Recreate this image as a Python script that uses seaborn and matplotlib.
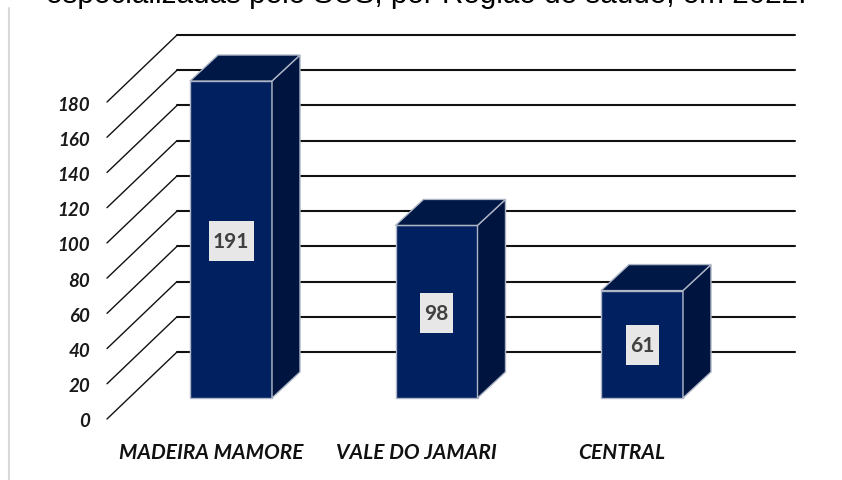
import pandas as pd
import matplotlib.pyplot as plt
from matplotlib.patches import Rectangle
import seaborn as sns

regioes = ['MADEIRA MAMORE', 'VALE DO JAMARI', 'CENTRAL']
valores = [191, 98, 61]
ticks = [0, 20, 40, 60, 80, 100, 120, 140, 160, 180]
titulo = 'especializadas pelo SUS, por Região de saúde, em 2022.'

W, H = 842, 481
PX_CAT = 205.5      # pixels entre categorias
PX_VAL = 1.761      # pixels por unidade do eixo
X0, Y0 = 231, 399   # centro da primeira barra / base das barras
DX, DY = 28, 26     # profundidade das barras
eixo_max = 180

FONTE = ['Lato', 'DejaVu Sans']
AZUL = '#002060'
LATERAL = '#001440'
TOPO = '#001846'
BORDA = '#aeb6c6'


def px_x(px):
    return (px - X0) / PX_CAT


def px_y(py):
    return (Y0 - py) / PX_VAL


sns.set_theme(style='white')
plt.rcParams['font.family'] = FONTE

df = pd.DataFrame({'regiao': regioes, 'valor': valores})
# a barra de 191 é cortada no topo do eixo, como no original
df['altura'] = df['valor'].clip(upper=eixo_max)

fig = plt.figure(figsize=(W / 100, H / 100), dpi=100, facecolor='white')
ax = fig.add_axes([0, 0, 1, 1])

sns.barplot(data=df, x='regiao', y='altura', color=AZUL, saturation=1,
            width=82 / PX_CAT, edgecolor=BORDA, linewidth=1, ax=ax, zorder=3)

ax.set_xlim(px_x(0), px_x(W))
ax.set_ylim(px_y(H), px_y(0))
ax.axis('off')

# grade em perspectiva: diagonal na frente, horizontal no fundo
for t in ticks:
    y_frente = t - 21 / PX_VAL
    y_fundo = t + 46 / PX_VAL
    ax.plot([px_x(107), px_x(177)], [y_frente, y_fundo], color='#111111', lw=1, zorder=1)
    ax.plot([px_x(177), px_x(795)], [y_fundo, y_fundo], color='#111111', lw=1.5, zorder=1)
    ax.text(px_x(90), y_frente - 2 / PX_VAL, str(t), ha='right', va='center', fontsize=13.5,
            style='italic', weight='bold', color='#1a1a1a', family=FONTE)

# faces lateral e superior de cada barra
dx = DX / PX_CAT
dy = DY / PX_VAL
for barra, valor, altura in zip(ax.containers[0], valores, df['altura']):
    x1 = barra.get_x()
    x2 = x1 + barra.get_width()
    ax.fill([x2, x2 + dx, x2 + dx, x2], [0, dy, altura + dy, altura],
            facecolor=LATERAL, edgecolor=BORDA, lw=1, zorder=3)
    ax.fill([x1, x1 + dx, x2 + dx, x2], [altura, altura + dy, altura + dy, altura],
            facecolor=TOPO, edgecolor=BORDA, lw=1, zorder=3)
    meio = altura / 2 - 1 / PX_VAL
    larg = (12 * len(str(valor)) + 9) / PX_CAT
    alt = 40 / PX_VAL
    ax.add_patch(Rectangle(((x1 + x2 - larg) / 2, meio - alt / 2), larg, alt,
                           facecolor='#e7e7e7', edgecolor='none', zorder=4))
    ax.text((x1 + x2) / 2, meio, str(valor), ha='center', va='center',
            fontsize=15, weight='bold', color='#404040', family=FONTE, zorder=5)

for i, regiao in enumerate(regioes):
    ax.text(i - 20 / PX_CAT, px_y(453), regiao, ha='center', va='center', fontsize=15,
            style='italic', weight='bold', color='#111111', family=FONTE)

# linha cinza à esquerda e título cortado no topo da imagem
ax.plot([px_x(9), px_x(9)], [px_y(9), px_y(H)], color='#d9d9d9', lw=1.5, zorder=1)
fig.text(426.5 / W, 1 - 3 / H, titulo, ha='center', va='baseline', fontsize=21.3,
         color='black', family=['Liberation Sans', 'DejaVu Sans'])

plt.savefig('out.png', dpi=100)
